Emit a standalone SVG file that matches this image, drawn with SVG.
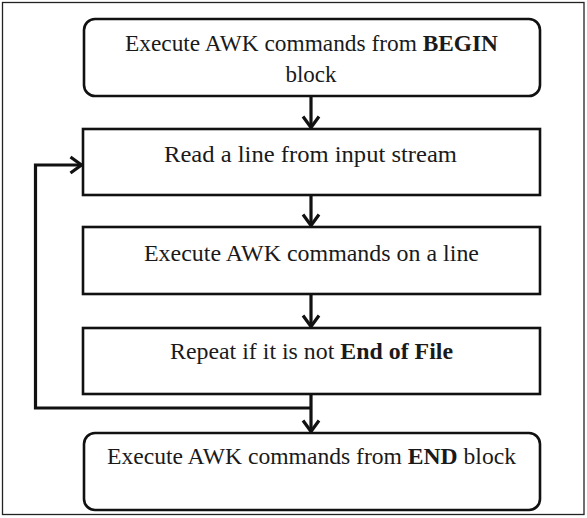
<svg xmlns="http://www.w3.org/2000/svg" width="587" height="518" viewBox="0 0 587 518">
  <style>
    .box { fill: #ffffff; stroke: #111111; stroke-width: 2.6; }
    .lbl { font-family: "Liberation Serif", "DejaVu Serif", serif; font-size: 23px; fill: #1a1a1a; text-anchor: middle; }
    .b { font-weight: bold; }
    .conn { fill: none; stroke: #111111; stroke-width: 3.2; }
  </style>
  <defs>
    <marker id="arr" markerUnits="userSpaceOnUse" markerWidth="20" markerHeight="20" viewBox="-14 -10 16 20" refX="0" refY="0" orient="auto">
      <path d="M -11,-8 L 0,0 L -11,8" fill="none" stroke="#111111" stroke-width="3.2" stroke-linejoin="miter"/>
    </marker>
  </defs>
  <rect x="0" y="0" width="587" height="518" fill="#ffffff"/>
  <rect x="2.5" y="2.5" width="581.5" height="512" fill="none" stroke="#222222" stroke-width="1.3"/>

  <g id="connectors">
    <line class="conn" x1="311" y1="97" x2="311" y2="127.5" marker-end="url(#arr)"/>
    <line class="conn" x1="311" y1="196" x2="311" y2="225.5" marker-end="url(#arr)"/>
    <line class="conn" x1="311" y1="295" x2="311" y2="326.5" marker-end="url(#arr)"/>
    <line class="conn" x1="311" y1="395" x2="311" y2="431.5" marker-end="url(#arr)"/>
    <polyline class="conn" points="311,408 35.5,408 35.5,165 81.5,165" stroke-width="3.8" marker-end="url(#arr)"/>
  </g>

  <g id="begin">
    <rect class="box" x="84" y="19" width="456" height="77" rx="11" ry="11"/>
    <text class="lbl" x="311.5" y="51" textLength="373" lengthAdjust="spacingAndGlyphs">Execute AWK commands from <tspan class="b">BEGIN</tspan></text>
    <text class="lbl" x="311" y="82">block</text>
  </g>

  <g id="read">
    <rect class="box" x="83" y="129" width="457" height="66"/>
    <text class="lbl" x="310.5" y="162" textLength="293" lengthAdjust="spacingAndGlyphs">Read a line from input stream</text>
  </g>

  <g id="execute">
    <rect class="box" x="83" y="227" width="457" height="67"/>
    <text class="lbl" x="311.5" y="261" textLength="335" lengthAdjust="spacingAndGlyphs">Execute AWK commands on a line</text>
  </g>

  <g id="repeat">
    <rect class="box" x="83" y="328" width="457" height="66"/>
    <text class="lbl" x="311.5" y="359" textLength="283" lengthAdjust="spacingAndGlyphs">Repeat if it is not <tspan class="b">End of File</tspan></text>
  </g>

  <g id="end">
    <rect class="box" x="84" y="433" width="456" height="77" rx="11" ry="11"/>
    <text class="lbl" x="311.5" y="464" textLength="409" lengthAdjust="spacingAndGlyphs">Execute AWK commands from <tspan class="b">END</tspan> block</text>
  </g>
</svg>
